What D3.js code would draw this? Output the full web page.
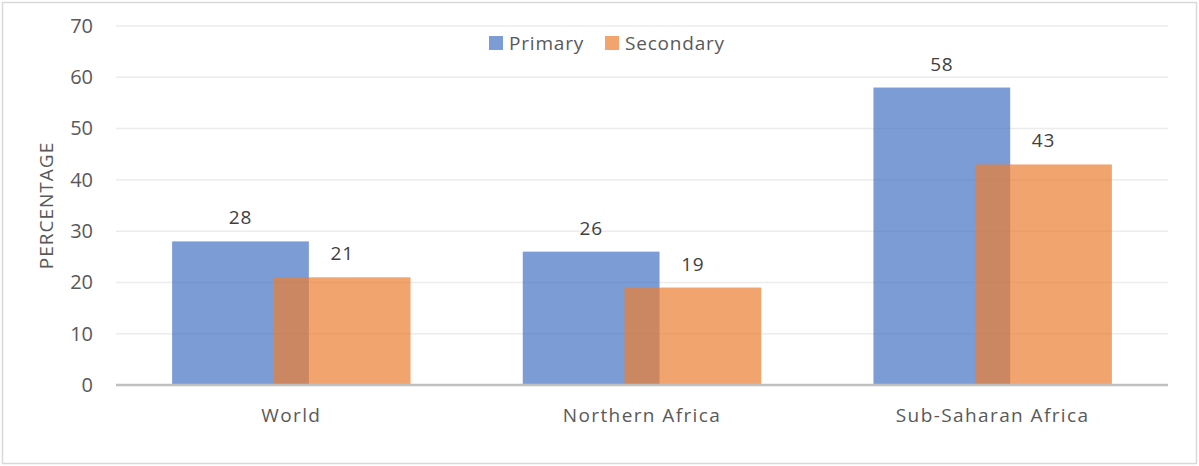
<!DOCTYPE html>
<html lang="en">
<head>
<meta charset="UTF-8">
<title>Primary vs Secondary</title>
<script src="https://d3js.org/d3.v7.min.js"></script>
<style>
  body { margin: 0; background: #fff; }
  text { font-family: "Open Sans", "Liberation Sans", sans-serif; }
</style>
</head>
<body>
<script>
// data
const regions = ["World", "Northern Africa", "Sub-Saharan Africa"];
const primary = [28, 26, 58];
const secondary = [21, 19, 43];
const seriesNames = ["Primary", "Secondary"];
const yTicks = [0, 10, 20, 30, 40, 50, 60, 70];

const W = 1199, H = 466;
const margin = { left: 116, right: 31, top: 26, bottom: 81 };

const svg = d3.select("body").append("svg")
    .attr("width", W)
    .attr("height", H);

// outer frame
svg.append("rect")
    .attr("x", 2.5).attr("y", 2.5)
    .attr("width", W - 5).attr("height", H - 5)
    .attr("fill", "#fff")
    .attr("stroke", "#d9d9d9")
    .attr("stroke-width", 1.5);

const x = d3.scaleBand()
    .domain(regions)
    .range([margin.left, W - margin.right]);

const y = d3.scaleLinear()
    .domain([0, 70])
    .range([H - margin.bottom, margin.top]);

// gridlines
svg.append("g")
    .selectAll("line")
    .data(yTicks.slice(1))
    .join("line")
    .attr("x1", margin.left).attr("x2", W - margin.right)
    .attr("y1", d => y(d)).attr("y2", d => y(d))
    .attr("stroke", "#ececec")
    .attr("stroke-width", 1.5);

// y tick labels
const yAxis = svg.append("g")
    .attr("transform", `translate(${margin.left},0)`)
    .call(d3.axisLeft(y).tickValues(yTicks).tickSize(0).tickPadding(23));
yAxis.select(".domain").remove();
yAxis.selectAll("text")
    .attr("font-size", 20)
    .attr("fill", "#595959")
    .style("font-family", "'Open Sans', sans-serif");

// axis title
svg.append("text")
    .attr("transform", `translate(53,${(y(0) + y(70)) / 2}) rotate(-90)`)
    .attr("text-anchor", "middle")
    .attr("font-size", 19)
    .attr("letter-spacing", 1)
    .attr("fill", "#595959")
    .text("PERCENTAGE");

// bars: each bar ~39% of the band, overlapping by ~10%
const bw = x.bandwidth();
const barW = bw * 0.39;
const offP = bw * 0.16;
const offS = bw * 0.45;

const bars = svg.append("g");
bars.selectAll(".p")
    .data(regions)
    .join("rect")
    .attr("class", "p")
    .attr("x", d => x(d) + offP)
    .attr("y", (d, i) => y(primary[i]))
    .attr("width", barW)
    .attr("height", (d, i) => y(0) - y(primary[i]))
    .attr("fill", "#4472c4")
    .attr("fill-opacity", 0.7);

bars.selectAll(".s")
    .data(regions)
    .join("rect")
    .attr("class", "s")
    .attr("x", d => x(d) + offS)
    .attr("y", (d, i) => y(secondary[i]))
    .attr("width", barW)
    .attr("height", (d, i) => y(0) - y(secondary[i]))
    .attr("fill", "#ed7d31")
    .attr("fill-opacity", 0.7);

// value labels
const labels = svg.append("g")
    .attr("font-size", 19)
    .attr("letter-spacing", 0.8)
    .attr("fill", "#404040")
    .attr("text-anchor", "middle");
labels.selectAll(".lp")
    .data(regions)
    .join("text")
    .attr("x", d => x(d) + offP + barW / 2)
    .attr("y", (d, i) => y(primary[i]) - 17)
    .text((d, i) => primary[i]);
labels.selectAll(".ls")
    .data(regions)
    .join("text")
    .attr("x", d => x(d) + offS + barW / 2)
    .attr("y", (d, i) => y(secondary[i]) - 17)
    .text((d, i) => secondary[i]);

// baseline
svg.append("line")
    .attr("x1", margin.left).attr("x2", W - margin.right)
    .attr("y1", y(0)).attr("y2", y(0))
    .attr("stroke", "#bfbfbf")
    .attr("stroke-width", 2.5);

// category labels
svg.append("g")
    .selectAll("text")
    .data(regions)
    .join("text")
    .attr("x", d => x(d) + bw / 2)
    .attr("y", 422)
    .attr("text-anchor", "middle")
    .attr("font-size", 19)
    .attr("letter-spacing", 1.4)
    .attr("fill", "#595959")
    .text(d => d);

// legend
const legColors = ["#4472c4", "#ed7d31"];
const legX = [489, 605];
const leg = svg.append("g");
seriesNames.forEach((name, i) => {
    leg.append("rect")
        .attr("x", legX[i]).attr("y", 36)
        .attr("width", 14).attr("height", 14)
        .attr("fill", legColors[i])
        .attr("fill-opacity", 0.7);
    leg.append("text")
        .attr("x", legX[i] + 20).attr("y", 50)
        .attr("font-size", 19)
        .attr("letter-spacing", 0.8)
        .attr("fill", "#595959")
        .text(name);
});
</script>
</body>
</html>
